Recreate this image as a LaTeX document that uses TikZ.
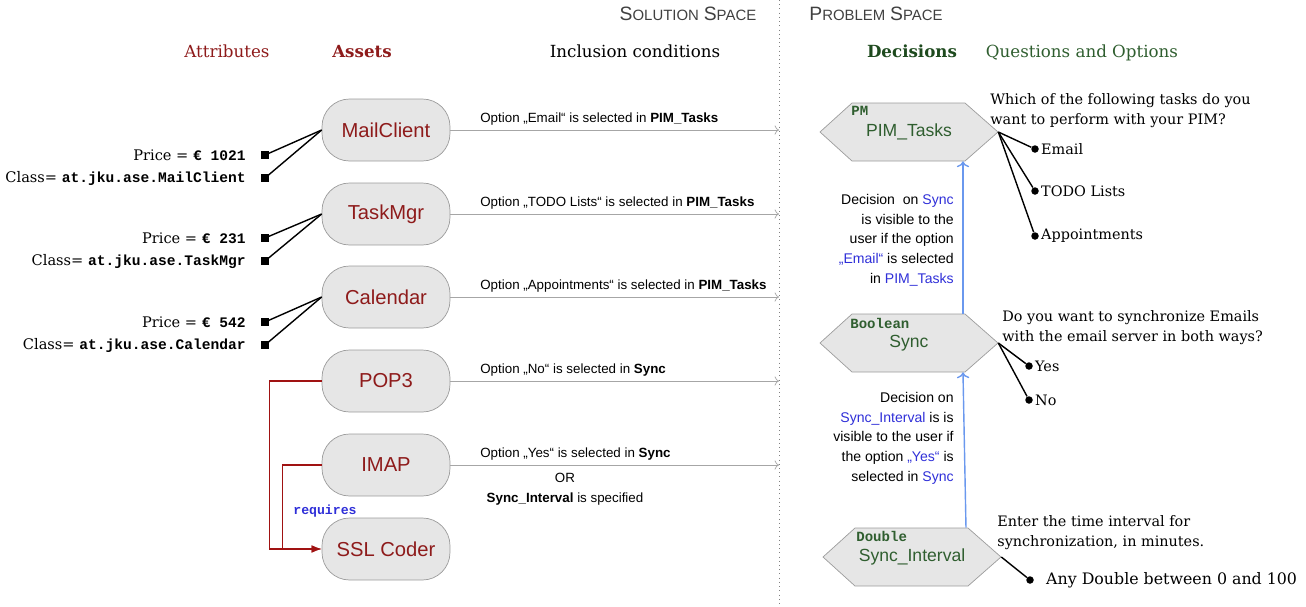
\documentclass[tikz,border=0pt]{standalone}
\usepackage{fontspec}
\setmainfont{DejaVu Serif}
\setsansfont{Liberation Sans}
\setmonofont{Liberation Mono}
\usepackage{tikz}
\usetikzlibrary{positioning, arrows.meta}
\usepackage{xcolor}
\definecolor{AssetRed}{HTML}{8E1B1B}
\definecolor{ReqRed}{HTML}{A01212}
\definecolor{DecGreen}{HTML}{1E4A1E}
\definecolor{LabelGreen}{HTML}{2F5E2F}
\definecolor{NoteBlue}{HTML}{2F2FD8}
\definecolor{ArrowBlue}{HTML}{6A98EE}
\definecolor{BoxFill}{HTML}{E6E6E6}
\definecolor{BoxGray}{HTML}{9C9C9C}

\begin{document}
\begin{tikzpicture}[x=0.02cm, y=-0.02cm,
    asset/.style={draw=BoxGray, fill=BoxFill, rounded corners=0.55cm, minimum width=2.56cm, minimum height=1.24cm, font=\sffamily\fontsize{11.5}{11.5}\selectfont, text=AssetRed},
    hexagon/.pic={\path[draw=BoxGray, fill=BoxFill] (-89,0) -- (-57,-29) -- (56,-29) -- (89,0) -- (56,29) -- (-57,29) -- cycle;},
    decision/.style={minimum width=3.56cm, minimum height=1.16cm, inner sep=0pt, font=\sffamily\fontsize{10}{10}\selectfont, text=LabelGreen},
    typelabel/.style={anchor=base west, inner sep=0pt, font=\ttfamily\bfseries\fontsize{8}{8}\selectfont, text=LabelGreen},
    header/.style={anchor=base, font=\fontsize{9.5}{9.5}\selectfont},
    attrbox/.style={fill=black, inner sep=0pt, minimum size=0.15cm},
    attr/.style={inner sep=0pt, font=\fontsize{8.3}{8.3}\selectfont},
    cond/.style={->, draw=gray!70, thin},
    condtext/.style={anchor=base west, inner sep=0pt, font=\sffamily\fontsize{7.6}{7.6}\selectfont},
    req/.style={-{Latex[length=2mm]}, draw=ReqRed, thick},
    visible/.style={->, draw=ArrowBlue, thick},
    note/.style={anchor=north east, align=right, inner sep=0pt, font=\sffamily\fontsize{8}{11.2}\selectfont},
    question/.style={anchor=north west, align=left, inner sep=0pt, font=\fontsize{8.2}{11.3}\selectfont},
    optdot/.style={circle, fill=black, inner sep=0pt, minimum size=0.15cm},
    opttext/.style={anchor=west, inner sep=1pt, font=\fontsize{8.2}{8.2}\selectfont}]
    \useasboundingbox (0,0) rectangle (1306,606);

    % Spaces
    \coordinate (divtop) at (779,0);
    \coordinate (divbot) at (779,606);
    \draw[dotted, gray] (divtop) -- (divbot);
    \node[font=\sffamily, text=black!75] (solution) at (688,14) {{\fontsize{11}{11}\selectfont S}{\fontsize{8.5}{8.5}\selectfont OLUTION} {\fontsize{11}{11}\selectfont S}{\fontsize{8.5}{8.5}\selectfont PACE}};
    \node[font=\sffamily, text=black!75] (problem) at (876,14) {{\fontsize{11}{11}\selectfont P}{\fontsize{8.5}{8.5}\selectfont ROBLEM} {\fontsize{11}{11}\selectfont S}{\fontsize{8.5}{8.5}\selectfont PACE}};

    % Headers
    \node[header, text=AssetRed] (hattr) at (227,57) {Attributes};
    \node[header, text=AssetRed] (hasset) at (362,57) {\bfseries Assets};
    \node[header] (hcond) at (635,57) {Inclusion conditions};
    \node[header, text=DecGreen] (hdec) at (912,57) {\bfseries Decisions};
    \node[header, text=LabelGreen] (hquest) at (1082,57) {Questions and Options};

    % Assets
    \node[asset] (mail) at (386,130) {MailClient};
    \node[asset] (task) at (386,214) {TaskMgr};
    \node[asset] (cal) at (386,297) {Calendar};
    \node[asset] (pop) at (386,381) {POP3};
    \node[asset] (imap) at (386,465) {IMAP};
    \node[asset] (ssl) at (386,549) {SSL Coder};

    % Attributes
    \foreach \a/\y/\price/\cls in {mail/155/1021/MailClient, task/238/231/TaskMgr, cal/322/542/Calendar} {
        \node[attrbox] (\a p) at (265,\y) {};
        \node[attrbox] (\a c) at (265,\y+23) {};
        \node[attr, left=0.3cm of \a p] {Price = {\ttfamily\bfseries € \price}};
        \node[attr, left=0.3cm of \a c] {Class= {\ttfamily\bfseries at.jku.ase.\cls}};
        \draw[thick] (\a p.center) -- (\a.west);
        \draw[thick] (\a c.center) -- (\a.west);
    }

    % Requires
    \draw[req] (pop.west) -- ++(-52,0) |- (ssl.west);
    \draw[req] (imap.west) -- ++(-39,0) |- (ssl.west);
    \node[anchor=west, inner sep=0pt, font=\ttfamily\bfseries\fontsize{7.5}{7.5}\selectfont, text=NoteBlue] (requires) at (293,511) {requires};

    % Inclusion conditions
    \foreach \a in {mail, task, cal, pop, imap} {
        \draw[cond] (\a.east) -- (\a.east -| divtop);
    }
    \node[condtext] (c1) at (480,122) {Option „Email“ is selected in \textbf{PIM\_Tasks}};
    \node[condtext] (c2) at (480,206) {Option „TODO Lists“ is selected in \textbf{PIM\_Tasks}};
    \node[condtext] (c3) at (480,289) {Option „Appointments“ is selected in \textbf{PIM\_Tasks}};
    \node[condtext] (c4) at (480,373) {Option „No“ is selected in \textbf{Sync}};
    \node[condtext] (c5) at (480,457) {Option „Yes“ is selected in \textbf{Sync}};
    \node[anchor=north, align=center, inner sep=0pt, font=\sffamily\fontsize{7.6}{11}\selectfont] (c5b) at (565,473) {OR\\\textbf{Sync\_Interval} is specified};

    % Decisions
    \pic at (909,132) {hexagon};
    \pic at (909,343) {hexagon};
    \pic at (912,557) {hexagon};
    \node[decision] (pim) at (909,132) {PIM\_Tasks};
    \node[decision] (sync) at (909,343) {Sync};
    \node[decision] (intv) at (912,557) {Sync\_Interval};
    \node[typelabel] (pimtype) at (851,115) {PM};
    \node[typelabel] (synctype) at (850,328) {Boolean};
    \node[typelabel] (intvtype) at (856,541) {Double};

    % Visibility
    \draw[visible] ([xshift=1.08cm]sync.north) -- ([xshift=1.08cm]pim.south);
    \draw[visible] ([xshift=1.08cm]intv.north) -- ([xshift=1.08cm]sync.south);
    \node[note] (n1) at (954,194) {Decision\ \ on \textcolor{NoteBlue}{Sync}\\is visible to the\\user if the option\\\textcolor{NoteBlue}{„Email“} is selected\\in \textcolor{NoteBlue}{PIM\_Tasks}};
    \node[note] (n2) at (954,392) {Decision on\\\textcolor{NoteBlue}{Sync\_Interval} is is\\visible to the user if\\the option \textcolor{NoteBlue}{„Yes“} is\\selected in \textcolor{NoteBlue}{Sync}};

    % Questions and Options
    \node[question] (q1) at (990,93) {Which of the following tasks do you\\want to perform with your PIM?};
    \node[question] (q2) at (1002,310) {Do you want to synchronize Emails\\with the email server in both ways?};
    \node[question] (q3) at (997,515) {Enter the time interval for\\synchronization, in minutes.};
    \foreach \o/\y/\txt in {email/149/Email, todo/191/TODO Lists, appt/236/Appointments} {
        \node[optdot] (\o) at (1035,\y) {};
        \node[opttext, right=0pt of \o] {\txt};
        \draw[thick] (pim.east) -- (\o);
    }
    \foreach \o/\y/\txt in {yes/366/Yes, no/400/No} {
        \node[optdot] (\o) at (1029,\y) {};
        \node[opttext, right=0pt of \o] {\txt};
        \draw[thick] (sync.east) -- (\o);
    }
    \node[optdot] (any) at (1030,580) {};
    \node[opttext, right=0.2cm of any, font=\fontsize{9}{9}\selectfont] {Any Double between 0 and 100};
    \draw[thick] (intv.east) -- (any);
\end{tikzpicture}
\end{document}
